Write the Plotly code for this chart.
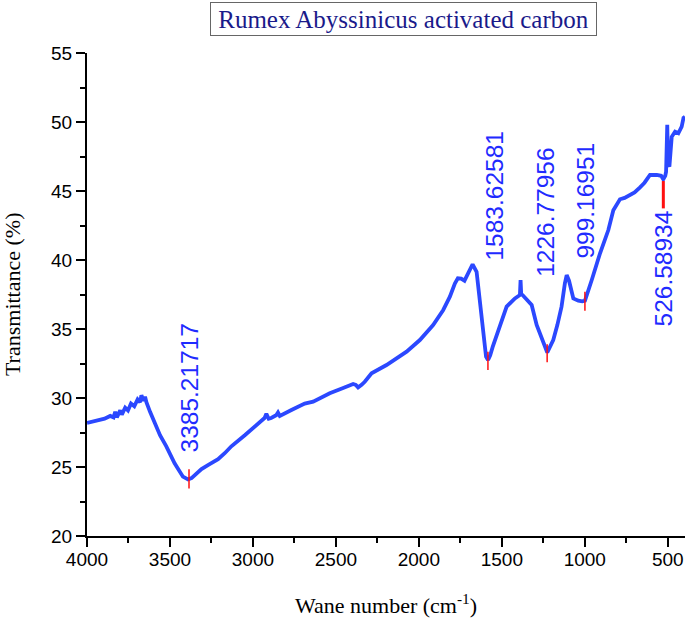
import plotly.graph_objects as go

# FTIR spectrum (wavenumber, cm^-1) vs transmittance (%)
wavenumber = [4000, 3950, 3894, 3860, 3840, 3830, 3820, 3800, 3790, 3770, 3753, 3735, 3715, 3695,
              3680, 3672, 3660, 3650, 3642, 3620, 3592, 3560, 3522, 3472, 3422, 3391, 3370, 3351,
              3310, 3271, 3210, 3170, 3130, 3049, 2969, 2930, 2919, 2905, 2890, 2860, 2849, 2838,
              2768, 2688, 2637, 2537, 2460, 2396, 2380, 2366, 2345, 2326, 2285, 2195, 2074, 1994,
              1914, 1853, 1813, 1783, 1765, 1745, 1725, 1700, 1676, 1652, 1632, 1612, 1595, 1583,
              1570, 1555, 1531, 1500, 1471, 1421, 1391, 1387, 1383, 1375, 1340, 1320, 1290, 1250,
              1226, 1210, 1190, 1165, 1140, 1120, 1109, 1095, 1085, 1069, 1039, 1015, 999, 980,
              958, 908, 858, 828, 800, 788, 760, 727, 700, 667, 640, 607, 580, 566, 540, 527,
              515, 510, 503, 498, 490, 476, 456, 436, 416, 405, 396]
transmittance = [28.2, 28.35, 28.5, 28.7, 28.6, 29.0, 28.6, 29.1, 28.8, 29.3, 29.1, 29.6, 29.4, 29.9,
                 29.7, 30.2, 29.8, 30.1, 29.7, 29.0, 28.17, 27.3, 26.5, 25.27, 24.3, 24.1, 24.2, 24.42,
                 24.85, 25.14, 25.56, 26.0, 26.5, 27.3, 28.17, 28.55, 28.85, 28.5, 28.55, 28.75, 28.95, 28.7,
                 29.13, 29.6, 29.73, 30.34, 30.7, 31.01, 30.95, 30.77, 30.95, 31.18, 31.79, 32.39, 33.36, 34.2,
                 35.29, 36.38, 37.34, 38.3, 38.67, 38.65, 38.5, 39.1, 39.69, 39.15, 37.1, 34.69, 33.0, 32.75,
                 33.1, 33.7, 34.5, 35.6, 36.62, 37.22, 37.46, 38.55, 37.5, 37.46, 37.0, 36.74, 35.29, 33.96,
                 33.3, 33.7, 34.2, 35.3, 36.62, 38.3, 38.91, 38.5, 37.9, 37.22, 37.05, 37.0, 37.05, 37.7,
                 38.55, 40.49, 42.17, 43.6, 44.2, 44.4, 44.5, 44.71, 44.9, 45.27, 45.6, 46.16, 46.2, 46.16, 46.1, 45.85,
                 46.1, 46.4, 49.8, 47.0, 46.76, 48.93, 49.3, 49.18, 49.66, 50.3, 50.38]

# Labelled peaks
peak_x = [3385.21717, 1583.62581, 1226.77956, 999.16951, 526.58934]
peak_tick_lo = [23.45, 32.03, 32.59, 36.33, 43.74]
peak_tick_hi = [24.83, 33.36, 33.90, 37.70, 45.72]
label_y = [26.16, 40.14, 38.90, 40.24, 43.76]

x_ticks = [4000, 3500, 3000, 2500, 2000, 1500, 1000, 500]
y_ticks = [20, 25, 30, 35, 40, 45, 50, 55]

LINE = "#2b48ff"
TEXTBLUE = "#1f2bff"

fig = go.Figure()
fig.add_trace(go.Scatter(x=wavenumber, y=transmittance, mode="lines",
                         line=dict(color=LINE, width=3.8), showlegend=False,
                         hoverinfo="x+y"))

for i, px in enumerate(peak_x):
    fig.add_trace(go.Scatter(x=[px, px], y=[peak_tick_lo[i], peak_tick_hi[i]], mode="lines",
                             line=dict(color="#ff1010", width=3 if i == 4 else 1.5),
                             showlegend=False, hoverinfo="skip"))

annotations = []
xshifts = [0, 7, -1, 1, 0]
yshifts = [-4, -4, -4, -4, 0]
for i, px in enumerate(peak_x):
    annotations.append(dict(
        x=px, y=label_y[i], xref="x", yref="y", text=f"{px:.5f}", showarrow=False,
        textangle=-90, xanchor="center", yanchor="top" if i == 4 else "bottom",
        xshift=xshifts[i], yshift=yshifts[i],
        font=dict(family="Liberation Sans, Arial", size=24.5, color=TEXTBLUE)))

# Boxed title
annotations.append(dict(
    x=0.529, y=1.070, xref="paper", yref="paper", xanchor="center", yanchor="middle",
    text="Rumex Abyssinicus activated carbon", showarrow=False,
    font=dict(family="Liberation Serif, Times New Roman", size=25, color="#1a1a8a"),
    bordercolor="#666666", borderwidth=1, borderpad=0, width=385, height=32,
    bgcolor="white"))

# Axis titles
annotations.append(dict(
    x=0.5, y=-0.141, xref="paper", yref="paper", xanchor="center", yanchor="middle",
    text="Wane number (cm<sup>-1</sup>)", showarrow=False,
    font=dict(family="Liberation Serif, Times New Roman", size=22, color="black")))
annotations.append(dict(
    x=-0.1245, y=0.5, xref="paper", yref="paper", xanchor="center", yanchor="middle",
    text="Transmittance (%)", showarrow=False, textangle=-90,
    font=dict(family="Liberation Serif, Times New Roman", size=22, color="black")))

axis_common = dict(showgrid=False, zeroline=False, showline=True, linecolor="black", linewidth=2,
                   ticks="outside", ticklen=9, tickwidth=2, tickcolor="black",
                   tickfont=dict(family="Liberation Sans, Arial", size=19, color="black"),
                   mirror=False)

fig.update_layout(
    width=685, height=618,
    margin=dict(l=87, r=0, t=53, b=82),
    paper_bgcolor="white", plot_bgcolor="white",
    xaxis=dict(range=[4000, 396], tickvals=x_ticks, ticktext=[str(v) for v in x_ticks],
               minor=dict(dtick=250, ticklen=5, tickwidth=2, tickcolor="black", ticks="outside"),
               ticklabelstandoff=-4,
               **axis_common),
    yaxis=dict(range=[20, 55], tickvals=y_ticks, ticktext=[str(v) for v in y_ticks],
               minor=dict(dtick=2.5, ticklen=5, tickwidth=2, tickcolor="black", ticks="outside"),
               **axis_common),
    annotations=annotations,
)

fig.write_html("out.html", config={"displayModeBar": False},
               post_script="document.body.style.margin='0';document.body.style.overflow='hidden';")
